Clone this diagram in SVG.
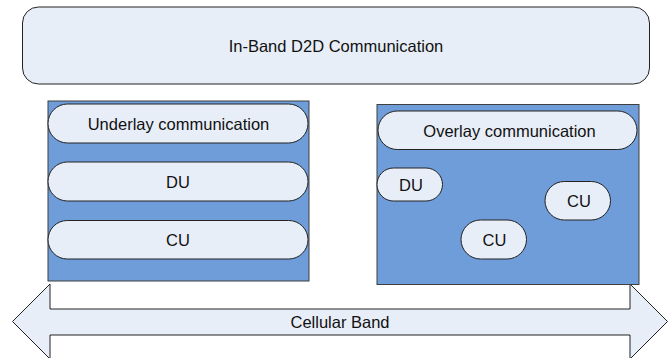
<svg xmlns="http://www.w3.org/2000/svg" width="670" height="358" viewBox="0 0 670 358">
<style>
.pill{fill:#E8EEF8;stroke:#222;stroke-width:1}
.panel{fill:#6F9DD9;stroke:#3F3F3F;stroke-width:1}
.t{font-family:"Liberation Sans",Arial,sans-serif;font-size:16.5px;fill:#111;text-anchor:middle}
</style>
<rect width="670" height="358" fill="#fff"/>
<g id="connectors">
<polygon points="12.5,321.5 50,284 50,309 630,309 630,284 667.5,321.5 630,359 630,335 50,335 50,359" fill="#E8EEF8" stroke="#222" stroke-width="1"/>
<text class="t" x="340" y="327.5">Cellular Band</text>
</g>
<g id="inband">
<rect class="pill" x="22.5" y="7" width="627" height="77" rx="16" ry="16"/>
<text class="t" x="336" y="51.5">In-Band D2D Communication</text>
</g>
<g id="underlay-panel">
<rect class="panel" x="48" y="101" width="261" height="180"/>
</g>
<g id="underlay">
<rect class="pill" x="48" y="104" width="260" height="39" rx="19.5"/>
<text class="t" x="178.5" y="129.5">Underlay communication</text>
</g>
<g id="du-left">
<rect class="pill" x="48" y="162" width="260" height="39" rx="19.5"/>
<text class="t" x="178" y="187.5">DU</text>
</g>
<g id="cu-left">
<rect class="pill" x="48" y="220.5" width="260" height="38.5" rx="19.25"/>
<text class="t" x="178" y="246">CU</text>
</g>
<g id="overlay-panel">
<rect class="panel" x="377" y="104.5" width="262" height="180"/>
</g>
<g id="overlay">
<rect class="pill" x="378" y="111" width="259" height="38.5" rx="19.25"/>
<text class="t" x="509.5" y="136.5">Overlay communication</text>
</g>
<g id="du-right">
<rect class="pill" x="377" y="168" width="65.5" height="33" rx="16.5"/>
<text class="t" x="411" y="190.5">DU</text>
</g>
<g id="cu-right">
<rect class="pill" x="545" y="181.5" width="65.5" height="38.5" rx="19.25"/>
<text class="t" x="579" y="206.5">CU</text>
</g>
<g id="cu-bottom">
<rect class="pill" x="461" y="220" width="65.5" height="39" rx="19.5"/>
<text class="t" x="494.5" y="245.5">CU</text>
</g>
</svg>
